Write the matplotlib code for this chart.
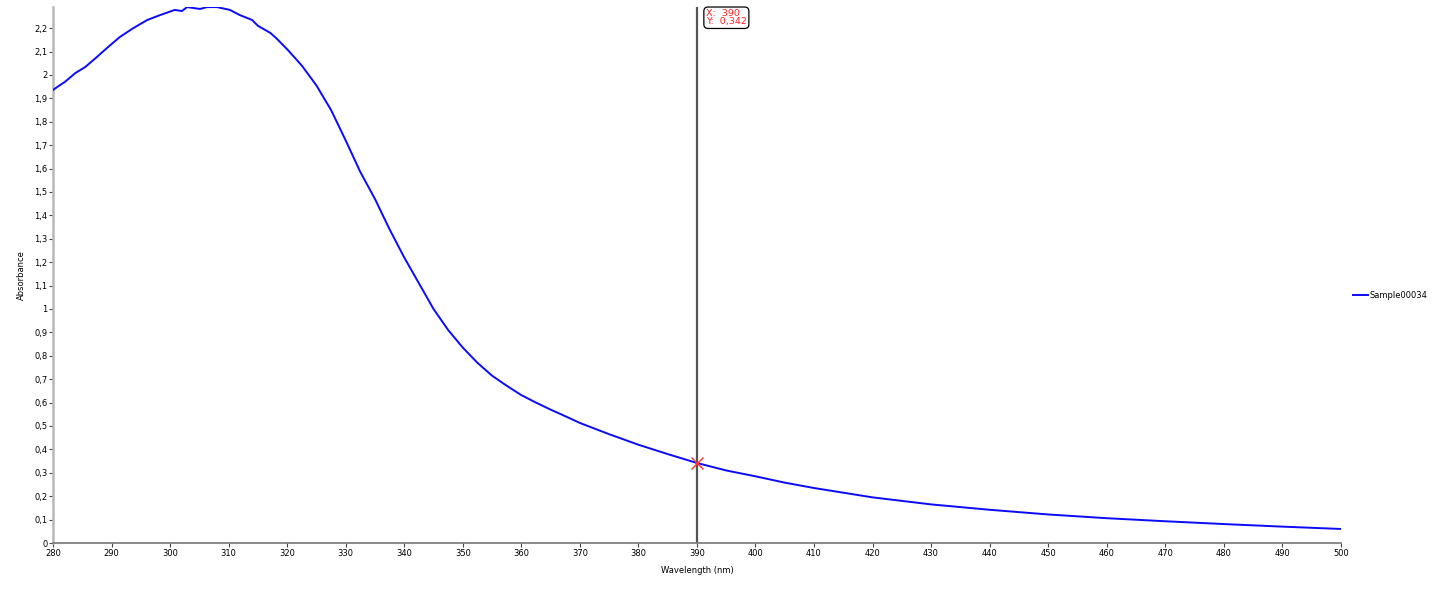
import matplotlib
matplotlib.use("Agg")
import matplotlib.pyplot as plt
import matplotlib.transforms as mtransforms

wavelength = [280, 281.2, 282, 283.8, 285.5, 287.5, 289.2, 291.4, 293.7, 296.1, 298.3, 300.8, 302, 302.9, 305.1, 306.3, 308, 310.2, 311.9,
              314, 315, 317.1, 318.1, 320.1, 322.5, 325, 327.5, 330, 332.5, 335, 337.5, 340, 342.5,
              345, 347.5, 350, 352.5, 355, 357.5, 360, 362.5, 365, 367.5, 370, 375, 380, 385, 390, 395, 400,
              405, 410, 415, 420, 430, 440, 450, 460, 470, 480, 490, 500]
absorbance = [1.936, 1.957, 1.97, 2.008, 2.034, 2.077, 2.115, 2.162, 2.2, 2.235, 2.256, 2.278, 2.273, 2.29, 2.282, 2.29, 2.29, 2.278, 2.256,
              2.235, 2.21, 2.18, 2.158, 2.107, 2.04, 1.955, 1.85, 1.72, 1.585, 1.47, 1.34, 1.22, 1.11,
              1.0, 0.91, 0.835, 0.77, 0.715, 0.672, 0.632, 0.6, 0.57, 0.542, 0.513, 0.465, 0.42, 0.38, 0.342, 0.31, 0.285,
              0.258, 0.235, 0.215, 0.195, 0.165, 0.142, 0.122, 0.106, 0.093, 0.081, 0.07, 0.06]
series_name = "Sample00034"
cursor_x = 390
cursor_y = 0.342
x_ticks = list(range(280, 501, 10))
y_ticks = [round(0.1 * i, 1) for i in range(0, 23)]


def fmt(v, nd=1):
    s = f"{v:.{nd}f}".rstrip("0").rstrip(".")
    return s.replace(".", ",")


fig = plt.figure(figsize=(14.34, 5.91), dpi=100)
ax = fig.add_axes([0.037, 0.0812, 0.898, 0.9068])
ax.plot(wavelength, absorbance, color="#0a0aff", lw=1.4, label=series_name, zorder=3)
ax.axvline(cursor_x, color="#555555", lw=1.6, zorder=2)
ax.plot([cursor_x], [cursor_y], marker="x", color="#ff3030", ms=9, mew=1.0, zorder=4)

trans = ax.get_xaxis_transform() + mtransforms.ScaledTranslation(9 / 100, -2.0 / 100, fig.dpi_scale_trans)
ax.text(cursor_x, 1.0, f"X:  {cursor_x}\nY:  {fmt(cursor_y, 3)}", transform=trans, ha="left", va="top",
        fontsize=6.8, color="#ff2020", linespacing=0.9, zorder=5,
        bbox=dict(boxstyle="round,pad=0.22,rounding_size=0.45", fc="white", ec="black", lw=0.9))

ax.set_xlim(280, 500)
ax.set_ylim(0, 2.29)
ax.set_xticks(x_ticks)
ax.set_xticklabels([str(t) for t in x_ticks])
ax.set_yticks(y_ticks)
ax.set_yticklabels([fmt(t) for t in y_ticks])
ax.tick_params(labelsize=6, length=3, width=0.8, color="#444444", pad=1)
for s in ["top", "right"]:
    ax.spines[s].set_visible(False)
ax.spines["left"].set_color("#b8b8b8")
ax.spines["left"].set_linewidth(1.8)
ax.spines["bottom"].set_color("#777777")
ax.spines["bottom"].set_linewidth(1.2)
ax.set_xlabel("Wavelength (nm)", fontsize=6, labelpad=6)
ax.set_ylabel("Absorbance", fontsize=6, labelpad=6)

fig.legend(loc="center left", bbox_to_anchor=(0.938, 0.5), frameon=False, fontsize=6,
           handlelength=1.8, handletextpad=0.2)
fig.savefig("out.png", dpi=100, facecolor="white")
